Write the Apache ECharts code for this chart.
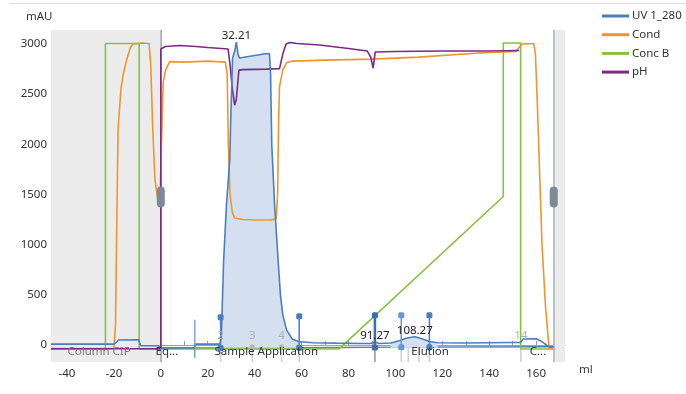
<!DOCTYPE html>
<html><head><meta charset="utf-8">
<script src="https://cdn.jsdelivr.net/npm/echarts@6/dist/echarts.min.js"></script>
<style>html,body{margin:0;padding:0;background:#fff}#c{width:686px;height:394px}</style>
</head><body><div id="c"></div>
<script>
// ---- data (ml, value) ----
const uvData = [[-46.8,8],[-20,8],[-19,25],[-18,50],[-9.5,52],[-8.5,-8],[-1,-8],[0,-30],[14.4,-30],[14.6,8],[25.2,8],[25.8,80],[26.8,850],[28,1400],[29.4,1850],[29.8,2240],[30.6,2860],[31.4,2920],[32.21,3020],[32.9,2900],[33.6,2860],[36,2870],[40,2885],[44,2900],[46.3,2905],[46.8,2700],[47.3,2000],[48.5,1400],[50,850],[51,500],[52,300],[53.6,150],[56,60],[59,32],[65,22],[75,18],[85,15],[89.5,15],[91.27,30],[93,15],[98,20],[102,45],[105,70],[108.27,82],[111,65],[114.5,35],[118,22],[130,20],[150,25],[153.3,25],[154.5,60],[160,62],[162,40],[165.5,-20],[167.5,-20]];
const baselineData = [[0,-30],[60,-28],[100,-22],[167.5,-18]];
const condData = [[-46.8,-35],[-20,-35],[-19.3,200],[-18.6,1500],[-18.2,2150],[-17,2550],[-16,2700],[-14.6,2840],[-13,2960],[-11.8,3000],[-8,3010],[-5,3005],[-4.3,2800],[-3.5,2200],[-2.5,1650],[-1.3,1450],[-0.3,1480],[0.3,2000],[1,2610],[2,2740],[3.8,2825],[10,2820],[20,2830],[27.5,2820],[28.3,2700],[28.8,2000],[29.5,1500],[30.5,1320],[31.5,1265],[35,1250],[40,1245],[47,1245],[49.2,1260],[49.8,1500],[50.2,2200],[50.6,2575],[52,2740],[53.5,2810],[56,2830],[70,2840],[90,2850],[110,2870],[135.7,2910],[151.4,2925],[152.5,2960],[154,3000],[159,3005],[159.7,2900],[160.5,2410],[161.3,1840],[162.5,1000],[164,380],[165.5,-30],[167.5,-35]];
const concBData = [[-46.8,-40],[-23.6,-40],[-23.6,3005],[-9.2,3005],[-9.2,-40],[76,-40],[146,1480],[146,3010],[153.4,3010],[153.4,-40],[167.5,-40]];
const phData = [[-46.8,-38],[0,-38],[0,2950],[2,2975],[8,2985],[15,2975],[20,2965],[28.7,2950],[29.5,2800],[30.5,2550],[31.5,2390],[32.2,2450],[33.3,2740],[35,2745],[45,2750],[50.6,2755],[52,2900],[53.4,3000],[55,3015],[58,3005],[67.7,2990],[80,2955],[88,2930],[89.5,2870],[90.5,2760],[91.1,2760],[91.4,2920],[100,2925],[120,2930],[140,2930],[152.8,2935]];
const peakRanges = [[25.2,59],[98,118]];
const fracMarks = [
  {x:25.5, top:275, bottom:-30, c:'#4a7ebf', w:1.5},
  {x:59, top:285, bottom:-28, c:'#4a7ebf', w:1.5},
  {x:91.27, top:295, bottom:-25, c:'#3a6cb3', w:2.5},
  {x:102.5, top:295, bottom:-23, c:'#6a96d4', w:1.5},
  {x:114.5, top:295, bottom:-22, c:'#4a7ebf', w:1.5}
];
const injectMark = {x:14.5, top:250, bottom:-130};
const eventTicks = [25.5, 39, 51.5, 59, 91.27, 102.5, 105.5, 110, 114.5, 153.5];
const grayDots = [39, 51.5];
const fracLabels = [{t:'2',x:25.5,y:90},{t:'3',x:39,y:90},{t:'4',x:51.5,y:90},{t:'14',x:153.5,y:90}];
const phaseLabels = [{t:'Column CIP',x:-26.3,y:-70,c:'#7a7a7a'},{t:'Eq...',x:2.6,y:-70,c:'#333'},{t:'Sample Application',x:45,y:-70,c:'#333'},{t:'Elution',x:114.8,y:-70,c:'#333'},{t:'C...',x:160.8,y:-70,c:'#333'}];
const peakLabels = [{t:'32.21',x:32.21,y:3020},{t:'91.27',x:91.27,y:30},{t:'108.27',x:108.27,y:82}];
const handles = [[0,1475],[167.5,1475]];
const xTickVals = [-40,-30,-20,-10,0,10,20,30,40,50,60,70,80,90,100,110,120,130,140,150,160,170];
const xLabelVals = [-40,-20,0,20,40,60,80,100,120,140,160];
const yTickVals = [0,250,500,750,1000,1250,1500,1750,2000,2250,2500,2750,3000];
const yLabelVals = [0,500,1000,1500,2000,2500,3000];

const FONT = '"Noto Sans", "Open Sans", sans-serif';
const FS = 11.5;
const chart = echarts.init(document.getElementById('c'), null, {renderer:'canvas'});

function lineSeries(name, data, color, z) {
  return {name, type:'line', data, color, z, symbol:'none', showSymbol:false, animation:false,
    lineStyle:{color, width:1.6}, itemStyle:{color}};
}
function textSeries(items, font, va, defColor, z) {
  return {type:'custom', coordinateSystem:'cartesian2d', silent:true, z, clip:false, animation:false,
    data: items.map(d=>[d.x,d.y]),
    renderItem:(params, api)=>{
      const d = items[params.dataIndex]; const p = api.coord([d.x,d.y]);
      return {type:'text', x:p[0], y:p[1], style:{text:d.t, fill:d.c||defColor, font, align:'center', verticalAlign:va}};
    }};
}

const series = [
  {type:'line', data:baselineData, z:1, symbol:'none', animation:false, color:'#4a7ebf',
    lineStyle:{width:1.4, color:'#4a7ebf'},
    markArea:{silent:true, itemStyle:{color:'#ececec'}, data:[[{xAxis:-46.8},{xAxis:0}],[{xAxis:167.5},{xAxis:172.3}]]},
    markLine:{silent:true, symbol:'none', label:{show:false}, lineStyle:{color:'#aeb6be', width:1.6, type:'solid'}, data:[{xAxis:0},{xAxis:167.5}]}
  },
  ...peakRanges.map(r=>({type:'line', z:2, symbol:'none', animation:false,
    data: uvData.filter(p=>p[0]>=r[0] && p[0]<=r[1]),
    lineStyle:{width:0}, areaStyle:{color:'#d4e0ef', opacity:1, origin:-28}})),
  {type:'custom', coordinateSystem:'cartesian2d', silent:true, z:2, animation:false,
    data: eventTicks.map(x=>[x,-30]),
    renderItem:(params, api)=>{
      const x = eventTicks[params.dataIndex];
      const a = api.coord([x,-30]), b = api.coord([x,-170]);
      const dark = x===91.27;
      return {type:'line', shape:{x1:a[0],y1:a[1],x2:b[0],y2:b[1]}, style:{stroke: dark?'#aaaaaa':'#cfcfcf', lineWidth: dark?2:1.5}};
    }},
  lineSeries('Conc B', concBData, '#86c23e', 3),
  lineSeries('Cond', condData, '#f0952c', 4),
  lineSeries('pH', phData, '#7c2a84', 5),
  lineSeries('UV 1_280', uvData, '#4a7ebf', 6),
  {type:'custom', coordinateSystem:'cartesian2d', silent:true, z:7, animation:false,
    data: fracMarks.map(d=>[d.x,d.top]),
    renderItem:(params, api)=>{
      const d = fracMarks[params.dataIndex];
      const a = api.coord([d.x,d.bottom]), b = api.coord([d.x,d.top]);
      return {type:'group', children:[
        {type:'line', shape:{x1:a[0],y1:a[1],x2:b[0],y2:b[1]}, style:{stroke:d.c, lineWidth:d.w}},
        {type:'rect', shape:{x:a[0]-3,y:a[1]-3,width:6,height:6,r:1.5}, style:{fill:d.c}},
        {type:'rect', shape:{x:b[0]-3,y:b[1]-3,width:6,height:6,r:1.5}, style:{fill:d.c}}
      ]};
    }},
  {type:'custom', coordinateSystem:'cartesian2d', silent:true, z:7, animation:false,
    data:[[injectMark.x, injectMark.top]],
    renderItem:(params, api)=>{
      const a = api.coord([injectMark.x,injectMark.bottom]), b = api.coord([injectMark.x,injectMark.top]);
      return {type:'line', shape:{x1:a[0],y1:a[1],x2:b[0],y2:b[1]}, style:{stroke:'#6a96d4', lineWidth:1.3}};
    }},
  {type:'custom', coordinateSystem:'cartesian2d', silent:true, z:7, animation:false,
    data: grayDots.map(x=>[x,-18]),
    renderItem:(params, api)=>{
      const p = api.coord([grayDots[params.dataIndex],-18]);
      return {type:'circle', shape:{cx:p[0],cy:p[1],r:2.5}, style:{fill:'#b5b5b5'}};
    }},
  textSeries(fracLabels, FS+'px '+FONT, 'middle', '#b0b0b0', 8),
  textSeries(phaseLabels, FS+'px '+FONT, 'middle', '#333', 8),
  textSeries(peakLabels, FS+'px '+FONT, 'bottom', '#222', 8),
  {type:'custom', coordinateSystem:'cartesian2d', silent:true, z:9, animation:false,
    data: handles,
    renderItem:(params, api)=>{
      const p = api.coord(handles[params.dataIndex]);
      return {type:'rect', shape:{x:p[0]-4,y:p[1]-10.5,width:8,height:21,r:4}, style:{fill:'#7d8a97'}};
    }}
];

chart.setOption({
  animation:false,
  backgroundColor:'#fff',
  textStyle:{fontFamily:FONT},
  grid:{left:51, right:121, top:30, bottom:32, containLabel:false},
  legend:{orient:'vertical', left:597, top:5, itemWidth:27, itemHeight:3, itemGap:6.7, icon:'rect',
    data:['UV 1_280','Cond','Conc B','pH'],
    textStyle:{fontSize:FS, color:'#333', fontFamily:FONT, padding:[0,0,0,-2]}},
  xAxis:{type:'value', min:-46.8, max:172.3,
    axisLine:{lineStyle:{color:'#a0a0a0'}},
    axisTick:{show:true, inside:true, length:4, customValues:xTickVals, lineStyle:{color:'#999'}},
    axisLabel:{customValues:xLabelVals, color:'#333', fontSize:FS, margin:6, fontFamily:FONT, formatter:v=>String(v)},
    splitLine:{show:false}},
  yAxis:{type:'value', min:-170, max:3140,
    axisLine:{show:true, lineStyle:{color:'#a0a0a0'}},
    axisTick:{show:true, length:3, customValues:yTickVals, lineStyle:{color:'#999'}},
    axisLabel:{customValues:yLabelVals, color:'#333', fontSize:FS, margin:4, fontFamily:FONT, formatter:v=>String(v)},
    splitLine:{show:false}},
  graphic:[
    {type:'line', shape:{x1:10,y1:3.5,x2:686,y2:3.5}, style:{stroke:'#dedede', lineWidth:1}},
    {type:'text', left:26, top:11, style:{text:'mAU', fill:'#333', font:FS+'px '+FONT}},
    {type:'text', left:579, top:364, style:{text:'ml', fill:'#333', font:FS+'px '+FONT}}
  ],
  series
});
</script></body></html>
